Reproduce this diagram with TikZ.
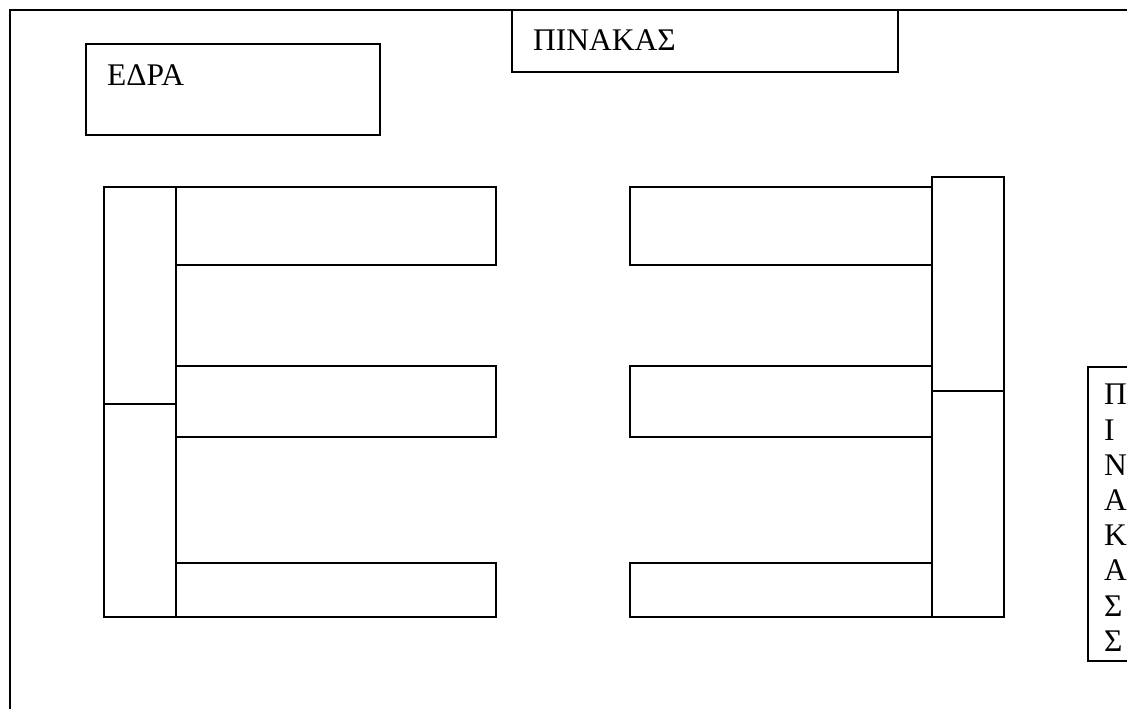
\documentclass[tikz,border=0pt]{standalone}
\usepackage{fontspec}
\setmainfont{Liberation Serif}
\usetikzlibrary{positioning}

\begin{document}
\begin{tikzpicture}[x=1pt,y=-1pt,
    font=\fontsize{31.5}{35.2}\selectfont,
    frame/.style={line width=2.2pt},
    box/.style={draw,line width=1.5pt,inner sep=0pt,outer sep=0pt,
                anchor=north west},
    desk/.style={box,minimum width=320pt},
    rdesk/.style={box,minimum width=302pt},
    bench/.style={box,minimum width=72pt},
    tag/.style={anchor=north west,inner sep=0pt,align=left}]
  \path[fill=white,use as bounding box] (0,0) rectangle (1127,709);
  \clip (0,0) rectangle (1127,709);
  \draw[frame] (10,709) -- (10,10) -- (1127,10);

  % teacher's desk and board
  \node[box,minimum width=294pt,minimum height=91pt] (edra) at (86,44) {};
  \node[tag] (edratext) at (107,65) {ΕΔΡΑ};
  \node[box,minimum width=386pt,minimum height=62pt] (board) at (512,10) {};
  \node[tag] (boardtext) at (533,30) {ΠΙΝΑΚΑΣ};

  % left row
  \node[bench,minimum height=217pt] (benchLa) at (104,187) {};
  \node[bench,minimum height=213pt,below=0pt of benchLa] (benchLb) {};
  \node[desk,minimum height=78pt] (deskL1) at (benchLa.north east) {};
  \node[desk,minimum height=71pt,below=101pt of deskL1] (deskL2) {};
  \node[desk,minimum height=54pt,below=126pt of deskL2] (deskL3) {};

  % right row
  \node[bench,minimum height=214pt] (benchRa) at (932,177) {};
  \node[bench,minimum height=226pt,below=0pt of benchRa] (benchRb) {};
  \node[rdesk,minimum height=78pt] (deskR1) at (630,187) {};
  \node[rdesk,minimum height=71pt,below=101pt of deskR1] (deskR2) {};
  \node[rdesk,minimum height=54pt,below=126pt of deskR2] (deskR3) {};

  % side board
  \node[box,minimum width=90pt,minimum height=294pt] (side) at (1088,367) {};
  \node[tag] (sidetext) at (1104,384)
    {Π\\Ι\\Ν\\Α\\Κ\\Α\\Σ\\Σ};
\end{tikzpicture}
\end{document}
